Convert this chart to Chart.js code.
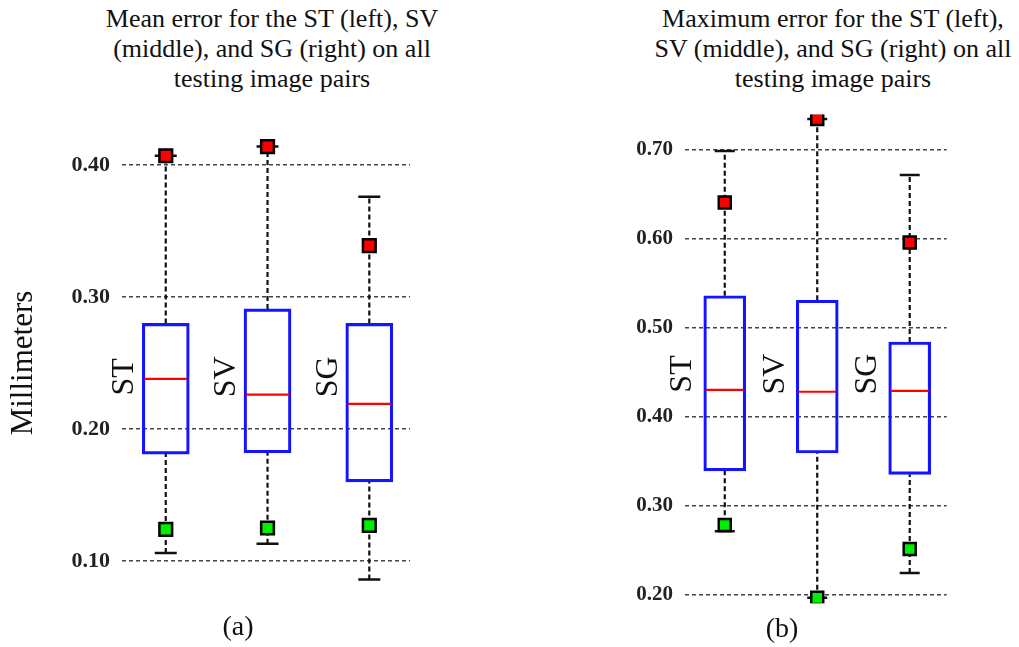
<!DOCTYPE html>
<html>
<head>
<meta charset="utf-8">
<script src="https://cdn.jsdelivr.net/npm/chart.js@4/dist/chart.umd.min.js"></script>
<style>
    body { margin: 0; background: #fff; width: 1019px; height: 647px; position: relative; overflow: hidden; font-family: "Liberation Serif", "Times New Roman", serif; color: #111; }
    canvas { position: absolute; top: 0; }
    .title { position: absolute; top: 4px; width: 400px; text-align: center; font-size: 26px; line-height: 30px; white-space: nowrap; }
    .caption { position: absolute; width: 60px; text-align: center; font-size: 28px; line-height: 30px; }
</style>
</head>
<body>
<div class="title" style="left:72px">Mean error for the ST (left), SV<br>(middle), and SG (right) on all<br>testing image pairs</div>
<div class="title" style="left:633px">Maximum error for the ST (left),<br>SV (middle), and SG (right) on all<br>testing image pairs</div>
<canvas id="meanChart" width="440" height="647" style="left:0"></canvas>
<canvas id="maxChart" width="429" height="647" style="left:590px"></canvas>
<div class="caption" style="left:208px; top:611px">(a)</div>
<div class="caption" style="left:752px; top:613px">(b)</div>
<script>
// categories (box order left to right)
const categories = ['ST', 'SV', 'SG'];

// (a) mean error
const meanQ1 = [0.181, 0.182, 0.160];
const meanMedian = [0.238, 0.226, 0.219];
const meanQ3 = [0.280, 0.291, 0.280];
const meanLowWhisker = [0.106, 0.113, 0.086];
const meanHighWhisker = [0.407, 0.414, 0.376];
const meanMinMarker = [0.124, 0.125, 0.127];
const meanMaxMarker = [0.407, 0.414, 0.339];
const meanTicks = [0.10, 0.20, 0.30, 0.40];

// (b) maximum error
const maxQ1 = [0.339, 0.359, 0.335];
const maxMedian = [0.430, 0.428, 0.429];
const maxQ3 = [0.536, 0.531, 0.484];
const maxLowWhisker = [0.271, 0.196, 0.224];
const maxHighWhisker = [0.699, 0.735, 0.672];
const maxMinMarker = [0.278, 0.196, 0.251];
const maxMaxMarker = [0.641, 0.735, 0.596];
const maxTicks = [0.20, 0.30, 0.40, 0.50, 0.60, 0.70];

const SERIF = '"Liberation Serif", "Times New Roman", serif';

// rotated ST / SV / SG labels left of each box
const boxLabels = {
    id: 'boxLabels',
    afterDatasetsDraw(chart, args, opts) {
        const ctx = chart.ctx;
        const xs = chart.scales.x;
        const area = chart.chartArea;
        const y = area.top + 0.531 * (area.bottom - area.top);
        ctx.save();
        ctx.fillStyle = '#111';
        ctx.font = '32px ' + SERIF;
        ctx.textAlign = 'center';
        ctx.textBaseline = 'middle';
        categories.forEach((c, i) => {
            ctx.save();
            ctx.translate(xs.getPixelForValue(i + 1) - opts.offset, y);
            ctx.rotate(-Math.PI / 2);
            ctx.fillText(c, 0, 0);
            ctx.restore();
        });
        ctx.restore();
    }
};

function pts(values) {
    return values.map((v, i) => ({ x: i + 1, y: v }));
}

function whiskerPoints(low, q1, q3, high) {
    const out = [];
    categories.forEach((c, i) => {
        out.push({ x: i + 1, y: low[i] }, { x: i + 1, y: q1[i] }, { x: i + 1, y: null });
        out.push({ x: i + 1, y: q3[i] }, { x: i + 1, y: high[i] }, { x: i + 1, y: null });
    });
    return out;
}

function makeChart(id, d, look) {
    return new Chart(document.getElementById(id), {
        type: 'bar',
        data: {
            datasets: [
                {
                    type: 'scatter', order: 1, data: pts(d.maxMarker),
                    pointStyle: 'rect', pointRadius: look.marker, backgroundColor: '#ff0000',
                    borderColor: '#000', pointBorderWidth: 2.5
                },
                {
                    type: 'scatter', order: 1, data: pts(d.minMarker),
                    pointStyle: 'rect', pointRadius: look.marker, backgroundColor: '#00ee00',
                    borderColor: '#000', pointBorderWidth: 2.5
                },
                {
                    type: 'scatter', order: 2, data: pts(d.low).concat(pts(d.high)),
                    pointStyle: 'line', pointRadius: look.cap, borderColor: '#111', pointBorderWidth: 2.5
                },
                {
                    type: 'scatter', order: 3, data: pts(d.median),
                    pointStyle: 'line', pointRadius: look.box / 2 - 2, borderColor: '#ff0000', pointBorderWidth: 2.2
                },
                {
                    type: 'bar', order: 4, grouped: false,
                    data: d.q1.map((v, i) => ({ x: i + 1, y: [v, d.q3[i]] })),
                    backgroundColor: 'rgba(0,0,0,0)', borderColor: '#1414ff', borderWidth: 2.5,
                    borderSkipped: false, barThickness: look.box
                },
                {
                    type: 'line', order: 5, data: whiskerPoints(d.low, d.q1, d.q3, d.high),
                    borderColor: '#111', borderWidth: 2.2, borderDash: [5, 3], pointRadius: 0,
                    spanGaps: false, fill: false
                }
            ]
        },
        options: {
            responsive: false,
            animation: false,
            devicePixelRatio: 1,
            layout: { padding: look.padding },
            plugins: {
                legend: { display: false },
                tooltip: { enabled: false },
                boxLabels: { offset: look.labelOffset }
            },
            scales: {
                x: { type: 'linear', display: false, offset: false, min: 0.57, max: 3.4 },
                y: {
                    min: look.min, max: look.max,
                    afterBuildTicks: s => { s.ticks = d.ticks.map(v => ({ value: v })); },
                    afterFit: s => { s.width = look.axisWidth; },
                    grid: { color: '#444', lineWidth: 1.5, drawTicks: false },
                    border: { display: false, dash: [4, 3] },
                    ticks: {
                        padding: 12, color: '#222',
                        font: { family: SERIF, size: look.tickSize, weight: 'bold' },
                        callback: v => Number(v).toFixed(2)
                    },
                    title: {
                        display: !!look.yTitle, text: look.yTitle || '', color: '#111',
                        font: { family: SERIF, size: 31 }, padding: { top: 5, bottom: 0 }
                    }
                }
            }
        },
        plugins: [boxLabels]
    });
}

makeChart('meanChart', {
    q1: meanQ1, median: meanMedian, q3: meanQ3, low: meanLowWhisker, high: meanHighWhisker,
    minMarker: meanMinMarker, maxMarker: meanMaxMarker, ticks: meanTicks
}, {
    min: 0.08, max: 0.42, axisWidth: 122, tickSize: 22, box: 47, cap: 11, marker: 9,
    labelOffset: 41, yTitle: 'Millimeters',
    padding: { top: 138.6, bottom: 59.6, right: 30, left: 0 }
});

makeChart('maxChart', {
    q1: maxQ1, median: maxMedian, q3: maxQ3, low: maxLowWhisker, high: maxHighWhisker,
    minMarker: maxMinMarker, maxMarker: maxMaxMarker, ticks: maxTicks
}, {
    min: 0.19, max: 0.74, axisWidth: 95, tickSize: 21, box: 42, cap: 10, marker: 8.5,
    labelOffset: 42,
    padding: { top: 114.5, bottom: 43.8, right: 72.3, left: 0 }
});
</script>
</body>
</html>
